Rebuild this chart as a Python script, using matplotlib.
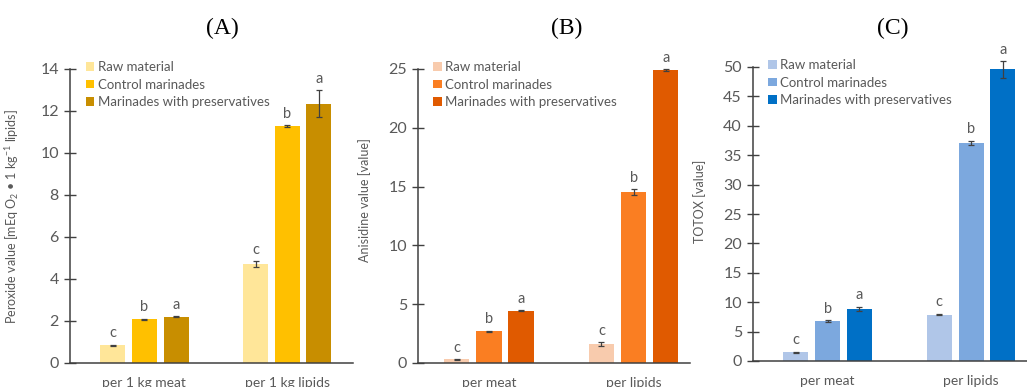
import numpy as np
import matplotlib
matplotlib.use('Agg')
import matplotlib.pyplot as plt

plt.rcParams['font.family'] = ['Lato', 'DejaVu Sans']
plt.rcParams['mathtext.fontset'] = 'custom'
plt.rcParams['mathtext.rm'] = 'Lato'
plt.rcParams['mathtext.it'] = 'Lato:italic'
plt.rcParams['mathtext.bf'] = 'Lato:bold'

groups = ['Raw material', 'Control marinades', 'Marinades with preservatives']

# (A) peroxide value
cats_a = ['per 1 kg meat', 'per 1 kg lipids']
vals_a = [[0.85, 4.70], [2.08, 11.28], [2.20, 12.35]]
errs_a = [[0.03, 0.15], [0.03, 0.03], [0.03, 0.65]]
lets_a = [['c', 'c'], ['b', 'b'], ['a', 'a']]

# (B) anisidine value
cats_b = ['per meat', 'per lipids']
vals_b = [[0.30, 1.60], [2.70, 14.55], [4.45, 24.90]]
errs_b = [[0.04, 0.18], [0.05, 0.25], [0.04, 0.10]]
lets_b = [['c', 'c'], ['b', 'b'], ['a', 'a']]

# (C) TOTOX
cats_c = ['per meat', 'per lipids']
vals_c = [[1.50, 7.90], [6.80, 37.10], [8.90, 49.60]]
errs_c = [[0.10, 0.15], [0.10, 0.35], [0.35, 1.40]]
lets_c = [['c', 'c'], ['b', 'b'], ['a', 'a']]

col_a = ['#FFE699', '#FFC000', '#C88E00']
col_b = ['#F8CBAD', '#FA7E22', '#E05A00']
col_c = ['#B0C6E8', '#7CA8DE', '#0070C6']

fig = plt.figure(figsize=(10.27, 3.87), dpi=100)

panels = [
    ('(A)', cats_a, vals_a, errs_a, lets_a, col_a, [70, 363, 283, 294], (-0.52, 1.46),
     (0, 14), 2, 'Peroxide value [mEq O$_2$ • 1 kg$^{-1}$ lipids]', 0.5, 222),
    ('(B)', cats_b, vals_b, errs_b, lets_b, col_b, [418, 363, 272, 294], (-0.49, 1.39),
     (0, 25), 5, 'Anisidine value [value]', 0.554, 567),
    ('(C)', cats_c, vals_c, errs_c, lets_c, col_c, [753, 361, 274, 294], (-0.52, 1.39),
     (0, 50), 5, 'TOTOX [value]', 0.544, 893),
]

W, H = 1027, 387
gray = '#595959'
w = 0.175
step = 0.222

for title, cats, vals, errs, lets, cols, (px, py, pw, ph), xl, yl, ystep, ylab, ly, tx in panels:
    ax = fig.add_axes([px / W, (H - py) / H, pw / W, ph / H])
    x = np.arange(len(cats))
    ytop = yl[1]
    for i in range(3):
        xs = x + (i - 1) * step
        ax.bar(xs, vals[i], width=w, color=cols[i], label=groups[i], zorder=2)
        ax.errorbar(xs, vals[i], yerr=errs[i], fmt='none', ecolor='#404040',
                    elinewidth=0.9, capsize=2.5, capthick=0.9, zorder=3, clip_on=False)
        for j in range(len(cats)):
            ax.text(xs[j], vals[i][j] + errs[i][j] + ytop * 0.015, lets[i][j],
                    ha='center', va='bottom', fontsize=10.5, color=gray, clip_on=False)
    ax.set_xlim(*xl)
    ax.set_ylim(*yl)
    ax.set_yticks(np.arange(0, ytop + 0.1, ystep))
    ax.set_xticks(x)
    ax.set_xticklabels(cats)
    ax.tick_params(axis='x', length=0, pad=10, labelsize=10, labelcolor=gray)
    ax.tick_params(axis='y', direction='inout', length=8, width=1, color='#404040',
                   labelsize=11.5, labelcolor=gray, pad=4)
    for s in ['top', 'right']:
        ax.spines[s].set_visible(False)
    ax.spines['left'].set_color('#404040')
    ax.spines['bottom'].set_color('#404040')
    ax.spines['left'].set_linewidth(1.1)
    ax.spines['bottom'].set_linewidth(1.1)
    ax.set_ylabel(ylab, fontsize=9, color=gray)
    ax.yaxis.set_label_coords(-0.172, ly)
    ax.legend(loc='upper left', bbox_to_anchor=(0.037, 1.045), frameon=False, fontsize=9.5,
              handlelength=0.65, handleheight=0.65, handletextpad=0.25, labelspacing=0.42,
              labelcolor=gray, borderaxespad=0)
    fig.text(tx / W, 1 - 28 / H, title, ha='center', va='center', fontsize=17,
             family=['Liberation Serif', 'DejaVu Serif'])

fig.savefig('out.png', dpi=100)
